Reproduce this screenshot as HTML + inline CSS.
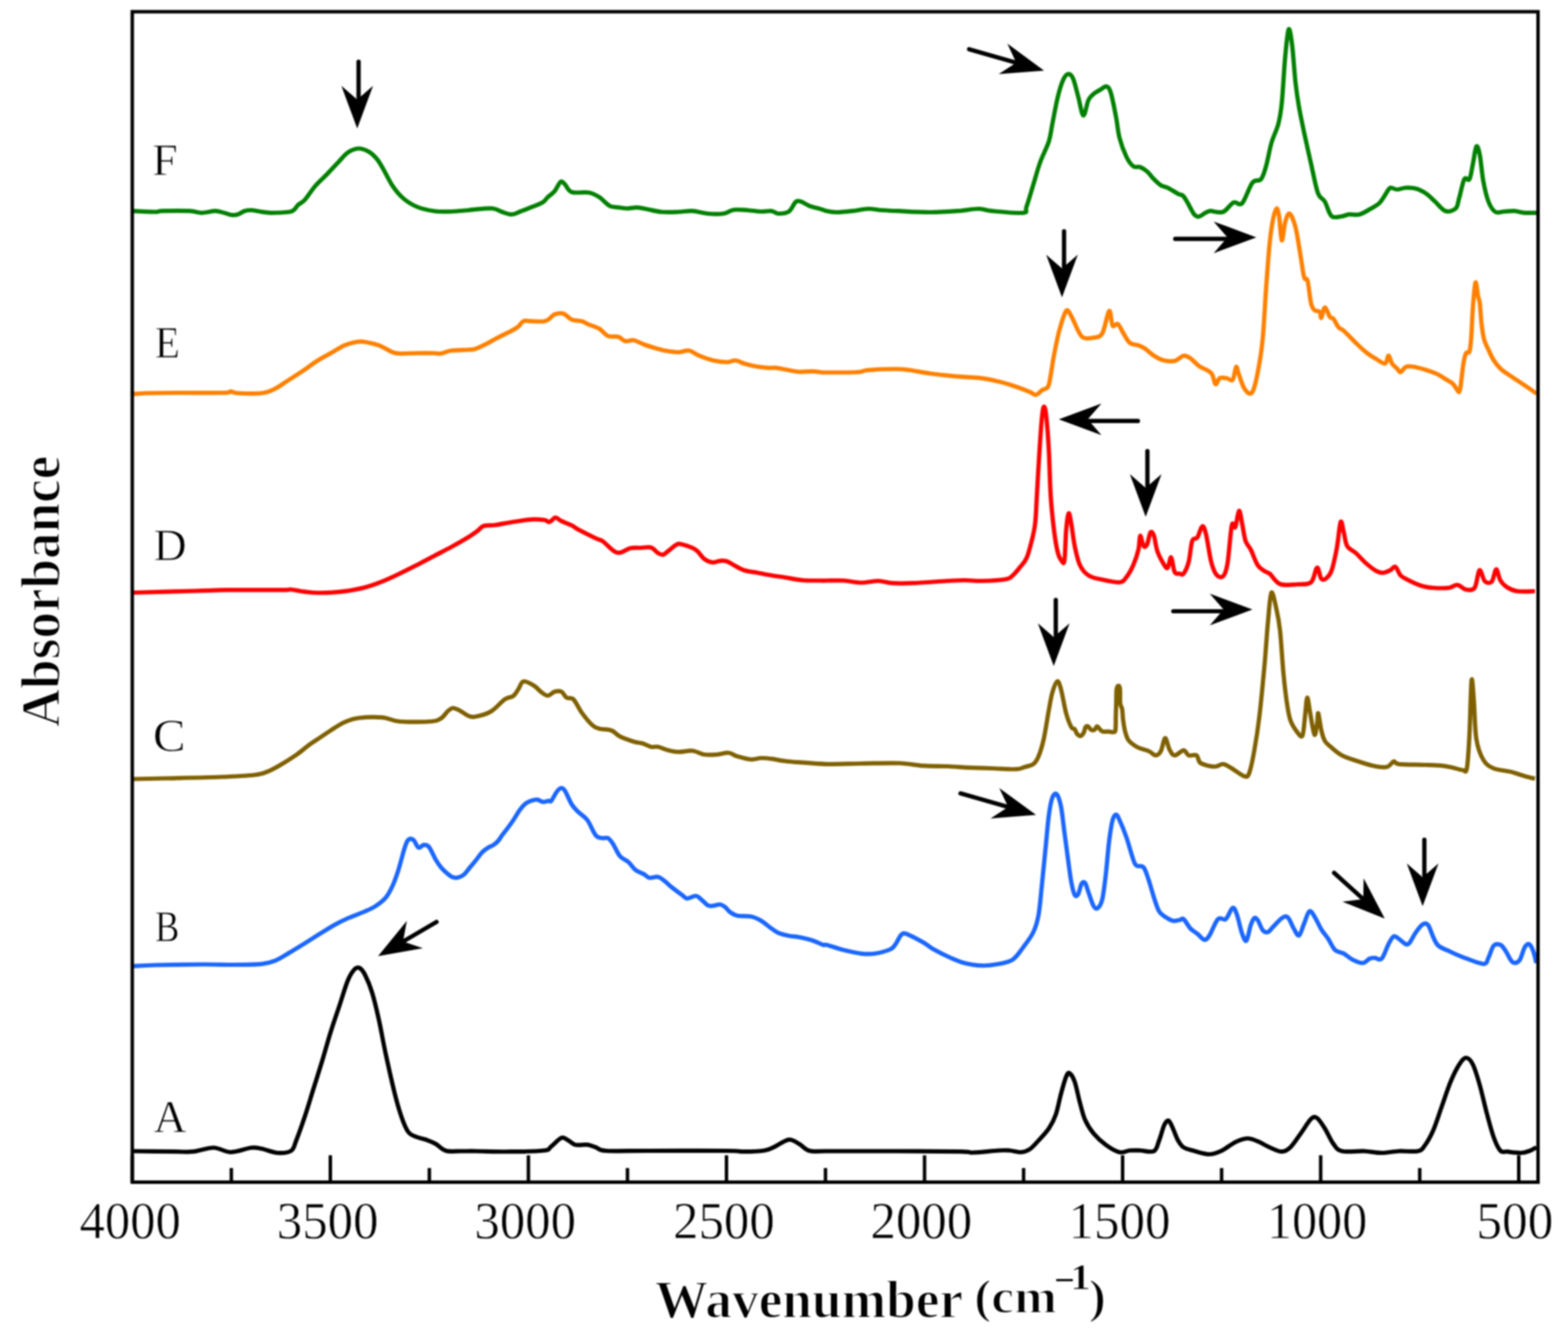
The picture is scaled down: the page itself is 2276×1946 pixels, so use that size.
<!DOCTYPE html>
<html><head><meta charset="utf-8"><title>FTIR spectra</title>
<style>html,body{margin:0;padding:0;background:#fff;}svg{display:block;filter:blur(1px);}</style>
</head><body>
<svg width="2276" height="1946" viewBox="0 0 2276 1946">
<rect width="2276" height="1946" fill="#fff"/>
<g stroke="#000" stroke-width="5"><line x1="2204.5" y1="1715.5" x2="2204.5" y2="1676.5"/><line x1="2060.8" y1="1715.5" x2="2060.8" y2="1695.0"/><line x1="1917.0" y1="1715.5" x2="1917.0" y2="1676.5"/><line x1="1773.2" y1="1715.5" x2="1773.2" y2="1695.0"/><line x1="1629.5" y1="1715.5" x2="1629.5" y2="1676.5"/><line x1="1485.8" y1="1715.5" x2="1485.8" y2="1695.0"/><line x1="1342.0" y1="1715.5" x2="1342.0" y2="1676.5"/><line x1="1198.2" y1="1715.5" x2="1198.2" y2="1695.0"/><line x1="1054.5" y1="1715.5" x2="1054.5" y2="1676.5"/><line x1="910.8" y1="1715.5" x2="910.8" y2="1695.0"/><line x1="767.0" y1="1715.5" x2="767.0" y2="1676.5"/><line x1="623.2" y1="1715.5" x2="623.2" y2="1695.0"/><line x1="479.5" y1="1715.5" x2="479.5" y2="1676.5"/><line x1="335.8" y1="1715.5" x2="335.8" y2="1695.0"/><line x1="192.0" y1="1715.5" x2="192.0" y2="1676.5"/></g>
<path fill="none" stroke="#008000" stroke-width="6.2" stroke-linejoin="round" stroke-linecap="butt" d="M190.0,306.2 C195.8,306.5 217.5,307.5 225.0,307.5 C232.5,307.5 226.7,306.5 235.0,306.2 C243.3,306.0 265.4,305.8 275.0,306.2 C284.6,306.7 286.2,308.8 292.5,308.8 C298.8,308.8 307.1,306.2 312.5,306.2 C317.9,306.2 321.0,307.8 325.0,308.8 C329.0,309.7 332.9,311.6 336.2,312.0 C339.6,312.4 341.9,312.2 345.0,311.2 C348.1,310.3 351.7,307.3 355.0,306.2 C358.3,305.2 361.2,304.9 365.0,305.0 C368.8,305.1 372.9,306.4 377.5,307.0 C382.1,307.6 385.4,308.7 392.5,308.8 C399.6,308.8 414.2,308.3 420.0,307.5 C425.8,306.7 425.4,305.4 427.5,303.8 C429.6,302.1 430.0,299.8 432.5,297.5 C435.0,295.2 438.3,294.6 442.5,290.0 C446.7,285.4 452.1,276.2 457.5,270.0 C462.9,263.8 469.2,258.5 475.0,252.5 C480.8,246.5 487.5,239.0 492.5,233.8 C497.5,228.5 500.4,224.3 505.0,221.2 C509.6,218.2 515.0,215.7 520.0,215.5 C525.0,215.3 530.4,217.4 535.0,220.0 C539.6,222.6 543.8,226.7 547.5,231.2 C551.2,235.8 553.8,241.0 557.5,247.5 C561.2,254.0 565.4,263.3 570.0,270.0 C574.6,276.7 579.2,282.5 585.0,287.5 C590.8,292.5 597.5,296.9 605.0,300.0 C612.5,303.1 621.7,305.1 630.0,306.2 C638.3,307.4 646.7,307.2 655.0,307.0 C663.3,306.8 674.2,305.5 680.0,305.0 C685.8,304.5 684.2,304.2 690.0,303.8 C695.8,303.3 708.8,302.0 715.0,302.5 C721.2,303.0 722.9,305.5 727.5,307.0 C732.1,308.5 737.9,311.2 742.5,311.2 C747.1,311.2 750.4,308.7 755.0,307.0 C759.6,305.3 764.6,303.5 770.0,301.2 C775.4,299.0 783.3,296.2 787.5,293.8 C791.7,291.2 792.1,289.0 795.0,286.2 C797.9,283.5 801.9,281.2 805.0,277.5 C808.1,273.8 811.2,265.4 813.8,263.8 C816.2,262.1 817.3,265.0 820.0,267.5 C822.7,270.0 824.2,276.8 830.0,278.8 C835.8,280.8 848.3,278.2 855.0,279.5 C861.7,280.8 865.0,283.0 870.0,286.2 C875.0,289.5 880.0,296.2 885.0,298.8 C890.0,301.2 895.8,300.6 900.0,301.2 C904.2,301.9 905.8,302.5 910.0,302.5 C914.2,302.5 920.0,301.0 925.0,301.2 C930.0,301.5 934.2,302.7 940.0,303.8 C945.8,304.8 952.5,306.9 960.0,307.5 C967.5,308.1 977.5,307.7 985.0,307.5 C992.5,307.3 997.9,305.8 1005.0,306.2 C1012.1,306.7 1020.0,309.4 1027.5,310.0 C1035.0,310.6 1043.8,310.9 1050.0,310.0 C1056.2,309.1 1059.2,305.3 1065.0,304.5 C1070.8,303.7 1078.3,304.6 1085.0,305.0 C1091.7,305.4 1099.2,306.8 1105.0,307.0 C1110.8,307.2 1115.8,305.8 1120.0,306.2 C1124.2,306.8 1125.8,309.9 1130.0,310.0 C1134.2,310.1 1140.8,309.8 1145.0,307.0 C1149.2,304.2 1152.1,295.4 1155.0,293.0 C1157.9,290.6 1159.2,291.5 1162.5,292.5 C1165.8,293.5 1170.4,297.0 1175.0,298.8 C1179.6,300.5 1185.8,301.8 1190.0,303.0 C1194.2,304.2 1195.8,305.4 1200.0,306.2 C1204.2,307.1 1208.8,308.0 1215.0,308.0 C1221.2,308.0 1230.0,307.1 1237.5,306.2 C1245.0,305.4 1252.9,303.2 1260.0,303.0 C1267.1,302.8 1272.5,304.5 1280.0,305.0 C1287.5,305.5 1293.3,305.8 1305.0,306.2 C1316.7,306.8 1335.8,308.0 1350.0,308.0 C1364.2,308.0 1378.3,307.1 1390.0,306.2 C1401.7,305.4 1411.7,303.0 1420.0,303.0 C1428.3,303.0 1429.2,305.3 1440.0,306.2 C1450.8,307.2 1476.7,309.8 1485.0,308.8 C1493.3,307.7 1487.5,306.9 1490.0,300.0 C1492.5,293.1 1496.7,278.3 1500.0,267.5 C1503.3,256.7 1506.2,245.4 1510.0,235.0 C1513.8,224.6 1519.6,214.2 1522.5,205.0 C1525.4,195.8 1525.4,190.4 1527.5,180.0 C1529.6,169.6 1532.5,152.9 1535.0,142.5 C1537.5,132.1 1540.0,123.3 1542.5,117.5 C1545.0,111.7 1547.5,108.1 1550.0,107.5 C1552.5,106.9 1555.0,108.3 1557.5,113.8 C1560.0,119.2 1562.5,131.0 1565.0,140.0 C1567.5,149.0 1570.0,166.7 1572.5,167.5 C1575.0,168.3 1577.5,150.2 1580.0,145.0 C1582.5,139.8 1584.6,138.8 1587.5,136.2 C1590.4,133.8 1594.4,131.8 1597.5,130.0 C1600.6,128.2 1603.8,124.7 1606.2,125.5 C1608.8,126.3 1610.2,127.6 1612.5,135.0 C1614.8,142.4 1617.9,159.2 1620.0,170.0 C1622.1,180.8 1622.5,190.4 1625.0,200.0 C1627.5,209.6 1631.7,220.6 1635.0,227.5 C1638.3,234.4 1641.7,238.8 1645.0,241.2 C1648.3,243.8 1651.7,241.2 1655.0,242.5 C1658.3,243.8 1661.7,245.8 1665.0,248.8 C1668.3,251.7 1671.7,256.7 1675.0,260.0 C1678.3,263.3 1681.7,266.7 1685.0,268.8 C1688.3,270.8 1690.8,270.4 1695.0,272.5 C1699.2,274.6 1706.3,279.3 1710.0,281.2 C1713.7,283.2 1715.0,282.1 1717.2,284.1 C1719.4,286.1 1721.5,290.2 1723.4,293.4 C1725.3,296.6 1727.0,300.3 1728.8,303.4 C1730.6,306.5 1732.3,310.1 1734.2,311.9 C1736.1,313.7 1737.8,314.7 1740.4,314.2 C1743.0,313.7 1747.3,310.1 1749.7,308.8 C1752.1,307.5 1753.6,306.9 1755.0,306.5 C1756.4,306.1 1754.6,306.1 1758.0,306.2 C1761.4,306.4 1770.1,309.6 1775.5,307.5 C1780.9,305.4 1785.9,295.8 1790.5,293.8 C1795.1,291.7 1798.4,299.8 1803.0,295.0 C1807.6,290.2 1813.4,270.8 1818.0,265.0 C1822.6,259.2 1827.2,264.2 1830.5,260.0 C1833.8,255.8 1835.5,248.8 1838.0,240.0 C1840.5,231.2 1842.6,217.5 1845.5,207.5 C1848.4,197.5 1853.0,189.6 1855.5,180.0 C1858.0,170.4 1858.8,166.2 1860.5,150.0 C1862.2,133.8 1863.8,100.4 1865.5,82.5 C1867.2,64.6 1868.8,45.4 1870.5,42.5 C1872.2,39.6 1873.8,52.1 1875.5,65.0 C1877.2,77.9 1878.8,105.0 1880.5,120.0 C1882.2,135.0 1883.4,142.9 1885.5,155.0 C1887.6,167.1 1890.1,178.8 1893.0,192.5 C1895.9,206.2 1899.7,222.9 1903.0,237.5 C1906.3,252.1 1909.7,270.8 1913.0,280.0 C1916.3,289.2 1919.7,286.9 1923.0,292.5 C1926.3,298.1 1928.8,310.2 1933.0,313.8 C1937.2,317.3 1943.8,314.2 1948.0,313.8 C1952.2,313.3 1953.8,311.7 1958.0,311.2 C1962.2,310.8 1968.0,312.5 1973.0,311.2 C1978.0,310.0 1983.0,306.7 1988.0,303.8 C1993.0,300.8 1998.4,298.5 2003.0,293.8 C2007.6,289.0 2012.8,278.5 2015.5,275.0 C2018.2,271.5 2017.2,272.5 2019.2,272.5 C2021.3,272.5 2024.5,275.0 2028.0,275.0 C2031.5,275.0 2035.9,272.7 2040.5,272.5 C2045.1,272.3 2050.5,272.3 2055.5,273.8 C2060.5,275.2 2065.9,278.1 2070.5,281.2 C2075.1,284.4 2078.4,288.3 2083.0,292.5 C2087.6,296.7 2093.0,304.6 2098.0,306.2 C2103.0,307.9 2109.7,305.6 2113.0,302.5 C2116.3,299.4 2115.9,294.6 2118.0,287.5 C2120.1,280.4 2123.0,264.6 2125.5,260.0 C2128.0,255.4 2130.9,263.8 2133.0,260.0 C2135.1,256.2 2136.3,245.4 2138.0,237.5 C2139.7,229.6 2141.3,214.6 2143.0,212.5 C2144.7,210.4 2146.3,216.7 2148.0,225.0 C2149.7,233.3 2150.9,251.2 2153.0,262.5 C2155.1,273.8 2157.6,285.0 2160.5,292.5 C2163.4,300.0 2166.8,305.1 2170.5,307.5 C2174.2,309.9 2178.4,307.2 2183.0,307.0 C2187.6,306.8 2193.0,306.0 2198.0,306.2 C2203.0,306.5 2207.2,308.3 2213.0,308.8 C2218.8,309.2 2229.7,308.8 2233.0,308.8"/>
<path fill="none" stroke="#ff8000" stroke-width="6.2" stroke-linejoin="round" stroke-linecap="butt" d="M190.0,572.0 C193.8,571.8 201.7,570.8 212.5,570.5 C223.3,570.2 236.2,570.1 255.0,570.0 C273.8,569.9 311.7,570.3 325.0,570.0 C338.3,569.7 331.7,567.9 335.0,568.0 C338.3,568.1 337.5,570.1 345.0,570.5 C352.5,570.9 371.2,571.4 380.0,570.5 C388.8,569.6 391.2,568.0 397.5,565.0 C403.8,562.0 410.0,557.3 417.5,552.5 C425.0,547.7 435.4,541.0 442.5,536.2 C449.6,531.5 453.8,527.7 460.0,523.8 C466.2,519.8 473.3,516.2 480.0,512.5 C486.7,508.8 493.8,504.0 500.0,501.2 C506.2,498.5 512.5,497.1 517.5,496.2 C522.5,495.4 524.6,495.4 530.0,496.2 C535.4,497.1 543.3,498.8 550.0,501.2 C556.7,503.8 565.0,509.3 570.0,511.2 C575.0,513.2 574.2,512.8 580.0,513.0 C585.8,513.2 596.7,512.6 605.0,512.5 C613.3,512.4 624.2,512.4 630.0,512.5 C635.8,512.6 635.8,513.6 640.0,513.0 C644.2,512.4 648.3,509.7 655.0,508.8 C661.7,507.8 674.2,507.9 680.0,507.5 C685.8,507.1 685.8,507.6 690.0,506.2 C694.2,504.9 699.6,502.2 705.0,499.5 C710.4,496.8 716.2,493.2 722.5,490.0 C728.8,486.8 737.5,482.7 742.5,480.0 C747.5,477.3 749.6,476.1 752.5,473.8 C755.4,471.4 756.7,467.0 760.0,465.8 C763.3,464.5 767.5,466.2 772.5,466.2 C777.5,466.3 785.8,466.9 790.0,466.2 C794.2,465.6 795.0,464.2 797.5,462.5 C800.0,460.8 801.7,457.5 805.0,456.2 C808.3,455.0 813.3,453.8 817.5,455.0 C821.7,456.2 825.4,461.9 830.0,463.8 C834.6,465.6 840.8,465.0 845.0,466.2 C849.2,467.5 850.8,469.5 855.0,471.2 C859.2,473.0 865.4,474.3 870.0,477.0 C874.6,479.7 877.9,485.5 882.5,487.5 C887.1,489.5 893.3,487.5 897.5,488.8 C901.7,490.0 903.8,494.2 907.5,495.0 C911.2,495.8 915.4,492.9 920.0,493.8 C924.6,494.6 929.2,497.9 935.0,500.0 C940.8,502.1 950.0,504.8 955.0,506.2 C960.0,507.7 960.0,507.9 965.0,508.8 C970.0,509.6 979.2,511.2 985.0,511.2 C990.8,511.2 995.0,507.9 1000.0,508.8 C1005.0,509.6 1009.2,513.9 1015.0,516.2 C1020.8,518.6 1028.3,521.5 1035.0,523.0 C1041.7,524.5 1049.6,525.5 1055.0,525.5 C1060.4,525.5 1063.3,522.7 1067.5,523.0 C1071.7,523.3 1075.4,526.1 1080.0,527.5 C1084.6,528.9 1089.2,530.2 1095.0,531.2 C1100.8,532.3 1109.6,533.3 1115.0,533.8 C1120.4,534.2 1123.3,533.3 1127.5,533.8 C1131.7,534.2 1134.6,535.3 1140.0,536.2 C1145.4,537.2 1153.3,539.1 1160.0,539.5 C1166.7,539.9 1175.0,538.7 1180.0,538.8 C1185.0,538.8 1186.7,539.7 1190.0,540.0 C1193.3,540.3 1190.8,540.5 1200.0,540.5 C1209.2,540.5 1235.0,540.6 1245.0,540.0 C1255.0,539.4 1250.8,537.8 1260.0,537.0 C1269.2,536.2 1290.0,535.5 1300.0,535.5 C1310.0,535.5 1311.7,535.9 1320.0,537.0 C1328.3,538.1 1338.8,540.5 1350.0,542.0 C1361.2,543.5 1375.0,545.1 1387.5,546.2 C1400.0,547.4 1414.6,547.5 1425.0,548.8 C1435.4,550.0 1441.7,551.7 1450.0,553.8 C1458.3,555.8 1467.5,558.8 1475.0,561.2 C1482.5,563.8 1490.2,566.8 1495.0,568.8 C1499.8,570.7 1500.8,573.4 1503.8,573.0 C1506.7,572.6 1509.6,568.2 1512.5,566.2 C1515.4,564.3 1519.2,564.8 1521.2,561.2 C1523.3,557.7 1523.5,552.7 1525.0,545.0 C1526.5,537.3 1527.9,525.8 1530.0,515.0 C1532.1,504.2 1534.6,490.6 1537.5,480.0 C1540.4,469.4 1544.6,454.8 1547.5,451.2 C1550.4,447.7 1552.1,454.0 1555.0,458.8 C1557.9,463.5 1562.1,474.8 1565.0,480.0 C1567.9,485.2 1568.8,488.3 1572.5,490.0 C1576.2,491.7 1582.9,491.0 1587.5,490.0 C1592.1,489.0 1596.2,490.2 1600.0,483.8 C1603.8,477.3 1607.5,453.1 1610.0,451.2 C1612.5,449.4 1612.9,469.4 1615.0,472.5 C1617.1,475.6 1620.0,468.3 1622.5,470.0 C1625.0,471.7 1627.1,477.9 1630.0,482.5 C1632.9,487.1 1636.2,494.4 1640.0,497.5 C1643.8,500.6 1648.8,499.8 1652.5,501.2 C1656.2,502.7 1658.8,503.8 1662.5,506.2 C1666.2,508.8 1670.8,513.5 1675.0,516.2 C1679.2,519.0 1682.5,521.2 1687.5,522.5 C1692.5,523.8 1699.9,524.8 1705.0,523.8 C1710.1,522.7 1714.2,516.9 1718.0,516.2 C1721.8,515.6 1724.2,517.5 1728.0,520.0 C1731.8,522.5 1735.5,527.7 1740.5,531.2 C1745.5,534.8 1754.0,536.9 1758.0,541.2 C1762.0,545.6 1762.2,556.2 1764.2,557.5 C1766.3,558.8 1767.8,550.2 1770.5,548.8 C1773.2,547.3 1777.4,548.3 1780.5,548.8 C1783.6,549.2 1787.0,554.0 1789.2,551.2 C1791.5,548.5 1792.8,534.0 1794.2,532.5 C1795.7,531.0 1796.1,537.5 1798.0,542.5 C1799.9,547.5 1802.8,557.7 1805.5,562.5 C1808.2,567.3 1811.8,571.2 1814.2,571.2 C1816.8,571.2 1818.2,569.8 1820.5,562.5 C1822.8,555.2 1825.9,539.6 1828.0,527.5 C1830.1,515.4 1831.3,508.8 1833.0,490.0 C1834.7,471.2 1836.3,437.9 1838.0,415.0 C1839.7,392.1 1841.3,368.8 1843.0,352.5 C1844.7,336.2 1846.3,325.8 1848.0,317.5 C1849.7,309.2 1851.5,302.9 1853.0,302.5 C1854.5,302.1 1855.5,307.3 1856.8,315.0 C1858.0,322.7 1859.0,347.5 1860.5,348.8 C1862.0,350.0 1863.6,329.0 1865.5,322.5 C1867.4,316.0 1869.2,308.8 1871.8,310.0 C1874.2,311.2 1877.8,319.6 1880.5,330.0 C1883.2,340.4 1885.9,360.4 1888.0,372.5 C1890.1,384.6 1891.3,396.7 1893.0,402.5 C1894.7,408.3 1896.3,401.2 1898.0,407.5 C1899.7,413.8 1901.3,432.9 1903.0,440.0 C1904.7,447.1 1905.9,447.9 1908.0,450.0 C1910.1,452.1 1913.8,450.6 1915.5,452.5 C1917.2,454.4 1916.8,462.3 1918.0,461.2 C1919.2,460.2 1920.9,446.5 1923.0,446.2 C1925.1,446.0 1928.4,457.3 1930.5,460.0 C1932.6,462.7 1933.4,460.0 1935.5,462.5 C1937.6,465.0 1940.5,472.1 1943.0,475.0 C1945.5,477.9 1946.3,476.2 1950.5,480.0 C1954.7,483.8 1962.6,492.3 1968.0,497.5 C1973.4,502.7 1978.0,507.3 1983.0,511.2 C1988.0,515.2 1993.4,518.5 1998.0,521.2 C2002.6,524.0 2007.6,528.3 2010.5,527.5 C2013.4,526.7 2013.8,516.2 2015.5,516.2 C2017.2,516.2 2018.4,524.4 2020.5,527.5 C2022.6,530.6 2025.9,532.9 2028.0,535.0 C2030.1,537.1 2030.9,540.4 2033.0,540.0 C2035.1,539.6 2037.6,533.8 2040.5,532.5 C2043.4,531.2 2045.9,531.4 2050.5,532.0 C2055.1,532.6 2062.2,534.5 2068.0,536.2 C2073.8,538.0 2080.5,540.2 2085.5,542.5 C2090.5,544.8 2094.2,547.7 2098.0,550.0 C2101.8,552.3 2105.5,554.2 2108.0,556.2 C2110.5,558.3 2111.3,560.4 2113.0,562.5 C2114.7,564.6 2116.8,569.6 2118.0,568.8 C2119.2,567.9 2119.5,564.4 2120.5,557.5 C2121.5,550.6 2123.0,535.0 2124.2,527.5 C2125.5,520.0 2126.5,515.4 2128.0,512.5 C2129.5,509.6 2131.8,513.8 2133.0,510.0 C2134.2,506.2 2134.7,500.8 2135.5,490.0 C2136.3,479.2 2137.0,458.3 2138.0,445.0 C2139.0,431.7 2140.5,412.5 2141.8,410.0 C2143.0,407.5 2144.5,425.0 2145.5,430.0 C2146.5,435.0 2147.2,433.3 2148.0,440.0 C2148.8,446.7 2149.5,461.2 2150.5,470.0 C2151.5,478.8 2152.6,486.2 2154.2,492.5 C2155.9,498.8 2158.2,502.5 2160.5,507.5 C2162.8,512.5 2165.1,517.9 2168.0,522.5 C2170.9,527.1 2174.7,531.7 2178.0,535.0 C2181.3,538.3 2183.8,539.6 2188.0,542.5 C2192.2,545.4 2198.0,549.2 2203.0,552.5 C2208.0,555.8 2213.4,559.4 2218.0,562.5 C2222.6,565.6 2228.4,569.8 2230.5,571.2"/>
<path fill="none" stroke="#ff0000" stroke-width="6.2" stroke-linejoin="round" stroke-linecap="butt" d="M193.8,860.0 C209.0,859.6 262.3,858.1 285.0,857.5 C307.7,856.9 309.2,856.5 330.0,856.2 C350.8,856.0 394.6,856.4 410.0,856.2 C425.4,856.1 417.9,855.2 422.5,855.5 C427.1,855.8 432.1,857.2 437.5,858.0 C442.9,858.8 447.9,859.7 455.0,860.0 C462.1,860.3 471.6,860.3 480.0,859.9 C488.4,859.5 496.7,858.7 505.1,857.4 C513.5,856.1 521.8,854.6 530.2,852.3 C538.6,850.0 546.9,846.9 555.3,843.6 C563.7,840.3 572.0,836.3 580.4,832.3 C588.8,828.3 597.1,824.0 605.5,819.7 C613.9,815.4 622.2,810.9 630.6,806.5 C639.0,802.1 647.3,798.0 655.7,793.4 C664.1,788.8 674.5,782.8 680.8,778.9 C687.1,775.0 689.8,772.8 693.3,770.2 C696.8,767.6 697.9,764.7 702.1,763.3 C706.3,761.9 712.1,762.9 718.4,762.0 C724.7,761.1 731.4,759.6 740.0,758.2 C748.6,756.8 761.7,754.4 770.0,753.8 C778.3,753.1 785.4,753.9 790.0,754.5 C794.6,755.1 794.8,758.0 797.5,757.5 C800.2,757.0 803.3,751.5 806.2,751.2 C809.2,751.0 811.0,754.4 815.0,756.2 C819.0,758.1 825.8,760.4 830.0,762.5 C834.2,764.6 834.2,765.6 840.0,768.8 C845.8,771.9 859.2,778.5 865.0,781.2 C870.8,784.0 870.8,782.6 875.0,785.5 C879.2,788.4 885.8,796.0 890.0,798.8 C894.2,801.5 895.8,802.5 900.0,802.0 C904.2,801.5 910.0,796.7 915.0,795.5 C920.0,794.3 925.0,795.2 930.0,795.0 C935.0,794.8 940.8,793.2 945.0,794.5 C949.2,795.8 952.1,800.8 955.0,802.5 C957.9,804.2 960.0,805.5 962.5,805.0 C965.0,804.5 966.7,802.0 970.0,799.5 C973.3,797.0 979.2,791.6 982.5,790.0 C985.8,788.4 986.2,789.2 990.0,790.0 C993.8,790.8 1001.2,793.3 1005.0,795.0 C1008.8,796.7 1009.6,797.3 1012.5,800.0 C1015.4,802.7 1018.8,808.5 1022.5,811.2 C1026.2,814.0 1031.2,815.8 1035.0,816.2 C1038.8,816.7 1041.7,814.0 1045.0,813.8 C1048.3,813.5 1051.7,813.5 1055.0,814.5 C1058.3,815.5 1060.8,817.8 1065.0,820.0 C1069.2,822.2 1074.2,825.6 1080.0,827.5 C1085.8,829.4 1093.3,830.0 1100.0,831.2 C1106.7,832.5 1113.3,833.9 1120.0,835.0 C1126.7,836.1 1132.5,836.8 1140.0,838.0 C1147.5,839.2 1156.7,841.2 1165.0,842.0 C1173.3,842.8 1184.2,842.4 1190.0,842.5 C1195.8,842.6 1194.2,842.5 1200.0,842.5 C1205.8,842.5 1216.7,842.0 1225.0,842.5 C1233.3,843.0 1241.7,845.4 1250.0,845.5 C1258.3,845.6 1267.5,842.9 1275.0,843.0 C1282.5,843.1 1286.7,845.7 1295.0,846.2 C1303.3,846.8 1311.7,846.8 1325.0,846.2 C1338.3,845.7 1362.5,843.7 1375.0,843.0 C1387.5,842.3 1391.7,842.0 1400.0,842.0 C1408.3,842.0 1415.0,843.2 1425.0,843.0 C1435.0,842.8 1452.5,841.8 1460.0,840.5 C1467.5,839.2 1466.7,837.8 1470.0,835.0 C1473.3,832.2 1476.7,827.9 1480.0,823.8 C1483.3,819.6 1487.1,816.5 1490.0,810.0 C1492.9,803.5 1495.4,793.3 1497.5,785.0 C1499.6,776.7 1501.2,770.8 1502.5,760.0 C1503.8,749.2 1504.0,737.5 1505.0,720.0 C1506.0,702.5 1507.5,674.2 1508.8,655.0 C1510.0,635.8 1511.4,615.8 1512.5,605.0 C1513.6,594.2 1514.5,590.0 1515.5,590.0 C1516.5,590.0 1517.6,594.2 1518.8,605.0 C1519.9,615.8 1521.5,636.2 1522.5,655.0 C1523.5,673.8 1523.8,698.3 1525.0,717.5 C1526.2,736.7 1528.3,756.2 1530.0,770.0 C1531.7,783.8 1533.3,792.9 1535.0,800.0 C1536.7,807.1 1538.3,810.2 1540.0,812.5 C1541.7,814.8 1543.8,820.8 1545.0,813.8 C1546.2,806.7 1546.5,781.5 1547.5,770.0 C1548.5,758.5 1550.0,746.7 1551.2,745.0 C1552.5,743.3 1553.5,752.1 1555.0,760.0 C1556.5,767.9 1557.9,782.5 1560.0,792.5 C1562.1,802.5 1564.2,812.9 1567.5,820.0 C1570.8,827.1 1574.6,831.5 1580.0,835.0 C1585.4,838.5 1592.5,839.6 1600.0,841.2 C1607.5,842.9 1619.2,845.6 1625.0,845.0 C1630.8,844.4 1631.7,841.7 1635.0,837.5 C1638.3,833.3 1642.1,826.7 1645.0,820.0 C1647.9,813.3 1650.8,804.6 1652.5,797.5 C1654.2,790.4 1653.8,778.3 1655.0,777.5 C1656.2,776.7 1658.3,790.4 1660.0,792.5 C1661.7,794.6 1663.3,793.3 1665.0,790.0 C1666.7,786.7 1668.3,774.6 1670.0,772.5 C1671.7,770.4 1673.3,772.9 1675.0,777.5 C1676.7,782.1 1677.5,792.9 1680.0,800.0 C1682.5,807.1 1687.5,816.0 1690.0,820.0 C1692.5,824.0 1693.3,825.6 1695.0,823.8 C1696.7,821.9 1698.3,807.7 1700.0,808.8 C1701.7,809.8 1702.9,826.0 1705.0,830.0 C1707.1,834.0 1710.3,832.1 1712.5,832.5 C1714.7,832.9 1715.8,835.4 1718.0,832.5 C1720.2,829.6 1723.4,822.9 1725.5,815.0 C1727.6,807.1 1728.4,790.8 1730.5,785.0 C1732.6,779.2 1735.6,783.5 1738.0,780.0 C1740.4,776.5 1742.9,764.6 1745.0,763.8 C1747.1,762.9 1748.3,766.5 1750.5,775.0 C1752.7,783.5 1755.5,805.2 1758.0,815.0 C1760.5,824.8 1762.6,830.2 1765.5,833.8 C1768.4,837.3 1772.8,839.0 1775.5,836.2 C1778.2,833.5 1779.7,829.8 1781.8,817.5 C1783.8,805.2 1786.1,771.2 1788.0,762.5 C1789.9,753.8 1791.2,768.5 1793.0,765.0 C1794.8,761.5 1796.8,742.1 1798.5,741.2 C1800.2,740.4 1801.4,752.7 1803.0,760.0 C1804.6,767.3 1805.9,778.8 1808.0,785.0 C1810.1,791.2 1812.6,791.7 1815.5,797.5 C1818.4,803.3 1822.2,814.8 1825.5,820.0 C1828.8,825.2 1832.6,826.7 1835.5,828.8 C1838.4,830.8 1839.2,829.4 1843.0,832.5 C1846.8,835.6 1851.3,844.9 1858.0,847.5 C1864.7,850.1 1875.5,848.4 1883.0,848.0 C1890.5,847.6 1898.2,849.0 1903.0,845.0 C1907.8,841.0 1909.2,824.6 1911.8,823.8 C1914.2,822.9 1915.7,837.5 1918.0,840.0 C1920.3,842.5 1923.0,840.8 1925.5,838.8 C1928.0,836.7 1930.5,834.8 1933.0,827.5 C1935.5,820.2 1938.3,806.7 1940.5,795.0 C1942.7,783.3 1944.3,761.2 1946.0,757.5 C1947.7,753.8 1948.9,766.7 1950.5,772.5 C1952.1,778.3 1952.6,787.5 1955.5,792.5 C1958.4,797.5 1963.4,798.3 1968.0,802.5 C1972.6,806.7 1978.0,813.1 1983.0,817.5 C1988.0,821.9 1993.8,826.5 1998.0,828.8 C2002.2,831.0 2004.7,831.5 2008.0,831.2 C2011.3,831.0 2015.1,829.0 2018.0,827.5 C2020.9,826.0 2023.0,821.2 2025.5,822.5 C2028.0,823.8 2030.1,831.9 2033.0,835.0 C2035.9,838.1 2038.0,838.8 2043.0,841.2 C2048.0,843.8 2056.8,848.0 2063.0,850.0 C2069.2,852.0 2073.8,852.5 2080.5,853.0 C2087.2,853.5 2097.2,853.7 2103.0,853.0 C2108.8,852.3 2111.3,848.3 2115.5,848.8 C2119.7,849.2 2123.8,854.8 2128.0,855.5 C2132.2,856.2 2137.2,857.7 2140.5,853.0 C2143.8,848.3 2145.0,829.0 2147.5,827.5 C2150.0,826.0 2152.5,841.0 2155.5,843.8 C2158.5,846.5 2162.8,846.7 2165.5,843.8 C2168.2,840.8 2169.7,826.5 2171.8,826.2 C2173.8,826.0 2175.3,838.1 2178.0,842.5 C2180.7,846.9 2183.8,849.9 2188.0,852.5 C2192.2,855.1 2196.3,857.1 2203.0,858.0 C2209.7,858.9 2223.8,858.0 2228.0,858.0"/>
<path fill="none" stroke="#7f6000" stroke-width="6.2" stroke-linejoin="round" stroke-linecap="butt" d="M193.8,1130.5 C201.5,1130.3 219.0,1130.0 240.0,1129.5 C261.0,1129.0 298.3,1128.3 320.0,1127.5 C341.7,1126.7 358.8,1125.8 370.0,1124.5 C381.2,1123.2 381.7,1122.2 387.5,1120.0 C393.3,1117.8 397.9,1115.3 405.0,1111.2 C412.1,1107.2 422.5,1100.7 430.0,1095.5 C437.5,1090.3 444.2,1084.2 450.0,1080.0 C455.8,1075.8 460.0,1073.3 465.0,1070.0 C470.0,1066.7 474.2,1063.7 480.0,1060.0 C485.8,1056.3 493.3,1051.0 500.0,1048.0 C506.7,1045.0 510.8,1043.1 520.0,1042.0 C529.2,1040.9 545.0,1040.4 555.0,1041.2 C565.0,1042.1 568.3,1046.0 580.0,1047.0 C591.7,1048.0 615.0,1047.8 625.0,1047.0 C635.0,1046.2 635.8,1045.0 640.0,1042.5 C644.2,1040.0 647.1,1034.5 650.0,1032.0 C652.9,1029.5 654.6,1027.6 657.5,1027.5 C660.4,1027.4 663.8,1029.4 667.5,1031.2 C671.2,1033.1 676.2,1037.3 680.0,1038.8 C683.8,1040.2 684.6,1041.0 690.0,1040.0 C695.4,1039.0 705.4,1036.7 712.5,1032.5 C719.6,1028.3 727.1,1018.8 732.5,1015.0 C737.9,1011.2 741.7,1012.5 745.0,1010.0 C748.3,1007.5 750.0,1003.5 752.5,1000.0 C755.0,996.5 756.2,989.6 760.0,988.8 C763.8,987.9 770.8,992.5 775.0,995.0 C779.2,997.5 781.7,1001.3 785.0,1003.8 C788.3,1006.2 791.7,1009.5 795.0,1009.5 C798.3,1009.5 801.7,1004.7 805.0,1003.8 C808.3,1002.8 812.1,1002.3 815.0,1003.8 C817.9,1005.2 819.6,1010.6 822.5,1012.5 C825.4,1014.4 828.8,1011.2 832.5,1015.0 C836.2,1018.8 840.4,1028.8 845.0,1035.0 C849.6,1041.2 855.8,1048.8 860.0,1052.5 C864.2,1056.2 865.4,1056.2 870.0,1057.5 C874.6,1058.8 882.5,1058.1 887.5,1060.0 C892.5,1061.9 894.6,1066.0 900.0,1068.8 C905.4,1071.5 914.6,1074.6 920.0,1076.2 C925.4,1077.9 928.3,1077.5 932.5,1078.8 C936.7,1080.0 941.2,1082.9 945.0,1083.8 C948.8,1084.6 950.8,1082.9 955.0,1083.8 C959.2,1084.6 965.0,1087.5 970.0,1088.8 C975.0,1090.0 979.2,1091.1 985.0,1091.2 C990.8,1091.4 998.8,1088.9 1005.0,1089.5 C1011.2,1090.1 1016.7,1094.1 1022.5,1095.0 C1028.3,1095.9 1034.2,1095.4 1040.0,1095.0 C1045.8,1094.6 1052.5,1092.1 1057.5,1092.5 C1062.5,1092.9 1064.6,1095.9 1070.0,1097.5 C1075.4,1099.1 1084.2,1101.6 1090.0,1102.0 C1095.8,1102.4 1100.0,1100.1 1105.0,1100.0 C1110.0,1099.9 1114.2,1100.5 1120.0,1101.2 C1125.8,1102.0 1133.3,1103.7 1140.0,1104.5 C1146.7,1105.3 1150.0,1105.5 1160.0,1106.2 C1170.0,1107.0 1185.0,1108.5 1200.0,1108.8 C1215.0,1109.0 1232.5,1108.2 1250.0,1108.0 C1267.5,1107.8 1290.0,1107.0 1305.0,1107.5 C1320.0,1108.0 1328.3,1110.5 1340.0,1111.2 C1351.7,1112.0 1364.2,1111.6 1375.0,1112.0 C1385.8,1112.4 1394.2,1113.2 1405.0,1113.8 C1415.8,1114.2 1428.3,1114.6 1440.0,1115.0 C1451.7,1115.4 1467.1,1116.6 1475.0,1116.2 C1482.9,1115.9 1483.3,1114.2 1487.5,1113.0 C1491.7,1111.8 1496.7,1111.3 1500.0,1108.8 C1503.3,1106.2 1505.0,1103.5 1507.5,1097.5 C1510.0,1091.5 1512.5,1083.8 1515.0,1072.5 C1517.5,1061.2 1520.4,1041.2 1522.5,1030.0 C1524.6,1018.8 1525.5,1011.9 1527.5,1005.0 C1529.5,998.1 1532.4,989.6 1534.5,988.8 C1536.6,987.9 1537.8,992.3 1540.0,1000.0 C1542.2,1007.7 1545.0,1025.8 1547.5,1035.0 C1550.0,1044.2 1552.9,1051.1 1555.0,1055.0 C1557.1,1058.9 1558.6,1056.5 1560.0,1058.2 C1561.4,1059.9 1562.0,1063.5 1563.5,1065.1 C1565.0,1066.7 1567.1,1068.4 1568.7,1068.0 C1570.3,1067.6 1572.2,1064.9 1573.3,1062.8 C1574.4,1060.7 1574.6,1056.8 1575.6,1055.3 C1576.6,1053.8 1577.6,1053.4 1579.1,1054.1 C1580.5,1054.8 1582.6,1058.5 1584.3,1059.3 C1586.0,1060.1 1587.7,1059.7 1589.0,1058.8 C1590.3,1057.9 1591.1,1054.1 1592.4,1054.1 C1593.7,1054.1 1595.7,1057.5 1597.0,1058.8 C1598.3,1060.0 1598.5,1061.1 1600.5,1061.6 C1602.5,1062.1 1606.3,1061.5 1609.2,1061.6 C1612.1,1061.7 1616.2,1063.2 1617.9,1062.2 C1619.6,1061.2 1619.1,1058.8 1619.4,1055.3 C1619.7,1051.8 1619.5,1047.2 1619.6,1041.4 C1619.7,1035.6 1620.0,1027.3 1620.2,1020.5 C1620.4,1013.6 1620.2,1004.5 1620.8,1000.3 C1621.4,996.0 1622.9,995.0 1623.7,995.0 C1624.5,995.0 1625.3,996.0 1625.7,1000.3 C1626.1,1004.5 1625.5,1015.7 1626.0,1020.5 C1626.5,1025.3 1628.2,1025.3 1628.9,1029.2 C1629.6,1033.1 1629.4,1038.4 1630.1,1043.7 C1630.8,1049.0 1631.8,1056.3 1633.0,1061.1 C1634.2,1065.9 1635.5,1069.7 1637.0,1072.6 C1638.5,1075.5 1639.6,1076.3 1642.2,1078.4 C1644.8,1080.5 1648.3,1083.1 1652.5,1085.0 C1656.7,1086.9 1663.3,1088.1 1667.5,1090.0 C1671.7,1091.9 1674.6,1096.2 1677.5,1096.2 C1680.4,1096.2 1682.7,1094.2 1685.0,1090.0 C1687.3,1085.8 1689.2,1071.7 1691.2,1071.2 C1693.3,1070.8 1695.2,1083.3 1697.5,1087.5 C1699.8,1091.7 1701.6,1096.0 1705.0,1096.2 C1708.4,1096.5 1714.6,1088.8 1718.0,1088.8 C1721.4,1088.8 1722.4,1095.0 1725.5,1096.2 C1728.6,1097.5 1733.8,1094.4 1736.8,1096.2 C1739.7,1098.1 1738.6,1104.8 1743.0,1107.5 C1747.4,1110.2 1757.6,1112.3 1763.0,1112.5 C1768.4,1112.7 1771.3,1108.3 1775.5,1108.8 C1779.7,1109.2 1783.0,1112.1 1788.0,1115.0 C1793.0,1117.9 1801.3,1125.0 1805.5,1126.2 C1809.7,1127.5 1810.5,1128.5 1813.0,1122.5 C1815.5,1116.5 1818.0,1103.8 1820.5,1090.0 C1823.0,1076.2 1825.5,1060.8 1828.0,1040.0 C1830.5,1019.2 1833.4,987.9 1835.5,965.0 C1837.6,942.1 1838.8,920.0 1840.5,902.5 C1842.2,885.0 1843.4,862.9 1845.5,860.0 C1847.6,857.1 1850.9,875.8 1853.0,885.0 C1855.1,894.2 1856.3,899.6 1858.0,915.0 C1859.7,930.4 1861.3,960.0 1863.0,977.5 C1864.7,995.0 1866.3,1008.8 1868.0,1020.0 C1869.7,1031.2 1870.5,1037.9 1873.0,1045.0 C1875.5,1052.1 1880.1,1058.8 1883.0,1062.5 C1885.9,1066.2 1888.6,1071.2 1890.5,1067.5 C1892.4,1063.8 1893.1,1049.2 1894.2,1040.0 C1895.4,1030.8 1896.2,1013.3 1897.5,1012.5 C1898.8,1011.7 1900.0,1026.0 1901.8,1035.0 C1903.5,1044.0 1906.3,1063.8 1908.0,1066.2 C1909.7,1068.8 1910.8,1055.2 1911.8,1050.0 C1912.7,1044.8 1912.5,1033.3 1913.5,1035.0 C1914.5,1036.7 1916.4,1053.3 1918.0,1060.0 C1919.6,1066.7 1920.5,1070.8 1923.0,1075.0 C1925.5,1079.2 1928.8,1081.5 1933.0,1085.0 C1937.2,1088.5 1942.2,1093.1 1948.0,1096.2 C1953.8,1099.4 1960.5,1101.2 1968.0,1103.8 C1975.5,1106.2 1985.5,1109.7 1993.0,1111.2 C2000.5,1112.8 2008.0,1114.0 2013.0,1113.0 C2018.0,1112.0 2020.1,1105.7 2023.0,1105.0 C2025.9,1104.3 2023.0,1107.9 2030.5,1108.8 C2038.0,1109.6 2057.6,1109.6 2068.0,1110.0 C2078.4,1110.4 2086.3,1110.6 2093.0,1111.2 C2099.7,1111.9 2103.0,1112.7 2108.0,1113.8 C2113.0,1114.8 2119.5,1117.3 2123.0,1117.5 C2126.5,1117.7 2127.6,1123.8 2129.2,1115.0 C2130.9,1106.2 2131.9,1086.2 2133.0,1065.0 C2134.1,1043.8 2135.0,995.8 2136.0,987.5 C2137.0,979.2 2138.1,1000.8 2139.2,1015.0 C2140.4,1029.2 2140.7,1057.9 2143.0,1072.5 C2145.3,1087.1 2148.8,1095.4 2153.0,1102.5 C2157.2,1109.6 2161.3,1112.1 2168.0,1115.0 C2174.7,1117.9 2185.5,1118.1 2193.0,1120.0 C2200.5,1121.9 2207.2,1124.6 2213.0,1126.2 C2218.8,1127.9 2225.5,1129.4 2228.0,1130.0"/>
<path fill="none" stroke="#1a66ff" stroke-width="6.2" stroke-linejoin="round" stroke-linecap="butt" d="M193.8,1402.0 C199.0,1401.8 208.1,1400.9 225.0,1400.5 C241.9,1400.1 275.8,1399.6 295.0,1399.5 C314.2,1399.4 325.8,1400.1 340.0,1400.0 C354.2,1399.9 370.0,1399.8 380.0,1398.8 C390.0,1397.7 393.3,1396.5 400.0,1393.8 C406.7,1391.0 412.9,1386.7 420.0,1382.5 C427.1,1378.3 435.4,1373.1 442.5,1368.8 C449.6,1364.4 455.4,1360.6 462.5,1356.2 C469.6,1351.9 477.9,1346.5 485.0,1342.5 C492.1,1338.5 497.5,1335.8 505.0,1332.5 C512.5,1329.2 523.3,1325.4 530.0,1322.5 C536.7,1319.6 540.0,1318.3 545.0,1315.0 C550.0,1311.7 555.8,1307.5 560.0,1302.5 C564.2,1297.5 567.1,1291.2 570.0,1285.0 C572.9,1278.8 575.4,1271.2 577.5,1265.0 C579.6,1258.8 580.8,1253.3 582.5,1247.5 C584.2,1241.7 585.8,1234.8 587.5,1230.0 C589.2,1225.2 590.4,1220.6 592.5,1218.8 C594.6,1216.9 597.5,1216.9 600.0,1218.8 C602.5,1220.6 605.0,1228.8 607.5,1230.0 C610.0,1231.2 612.5,1226.5 615.0,1226.2 C617.5,1226.0 619.6,1225.2 622.5,1228.8 C625.4,1232.3 629.6,1242.5 632.5,1247.5 C635.4,1252.5 637.3,1255.2 640.0,1258.5 C642.7,1261.8 645.7,1264.6 648.5,1267.0 C651.3,1269.4 654.1,1271.9 656.9,1272.9 C659.7,1274.0 662.6,1274.0 665.4,1273.3 C668.2,1272.6 671.1,1271.2 673.9,1268.7 C676.7,1266.2 679.5,1261.9 682.3,1258.5 C685.1,1255.1 688.0,1251.9 690.8,1248.4 C693.6,1244.9 696.5,1240.4 699.3,1237.4 C702.1,1234.4 704.9,1232.4 707.7,1230.6 C710.5,1228.8 713.7,1228.0 716.2,1226.3 C718.8,1224.6 720.9,1222.8 723.0,1220.4 C725.1,1218.0 726.5,1215.2 728.9,1212.0 C731.3,1208.8 734.6,1204.8 737.4,1201.0 C740.2,1197.2 743.0,1193.3 745.8,1189.1 C748.6,1184.9 751.5,1179.4 754.3,1175.6 C757.1,1171.8 760.0,1168.5 762.8,1166.2 C765.6,1163.9 768.4,1163.0 771.2,1162.0 C774.0,1161.0 776.9,1160.0 779.7,1160.3 C782.5,1160.6 785.4,1163.4 788.2,1163.7 C791.0,1164.0 794.6,1162.2 796.6,1162.0 C798.6,1161.8 798.2,1164.5 800.0,1162.5 C801.8,1160.5 805.2,1153.1 807.5,1150.0 C809.8,1146.9 811.7,1144.2 813.8,1143.8 C815.8,1143.3 817.3,1143.5 820.0,1147.5 C822.7,1151.5 826.7,1162.3 830.0,1167.5 C833.3,1172.7 836.2,1175.0 840.0,1178.8 C843.8,1182.5 848.3,1184.4 852.5,1190.0 C856.7,1195.6 861.2,1208.1 865.0,1212.5 C868.8,1216.9 872.1,1215.6 875.0,1216.2 C877.9,1216.9 880.0,1214.8 882.5,1216.2 C885.0,1217.7 887.1,1220.6 890.0,1225.0 C892.9,1229.4 896.2,1238.1 900.0,1242.5 C903.8,1246.9 908.8,1247.9 912.5,1251.2 C916.2,1254.6 918.8,1259.6 922.5,1262.5 C926.2,1265.4 931.7,1266.9 935.0,1268.8 C938.3,1270.6 939.2,1273.1 942.5,1273.8 C945.8,1274.4 951.2,1271.7 955.0,1272.5 C958.8,1273.3 961.7,1276.2 965.0,1278.8 C968.3,1281.2 970.8,1284.2 975.0,1287.5 C979.2,1290.8 986.2,1296.0 990.0,1298.8 C993.8,1301.5 994.2,1303.5 997.5,1303.8 C1000.8,1304.0 1006.7,1299.8 1010.0,1300.0 C1013.3,1300.2 1014.6,1302.7 1017.5,1305.0 C1020.4,1307.3 1024.6,1312.2 1027.5,1313.8 C1030.4,1315.3 1032.1,1314.7 1035.0,1314.5 C1037.9,1314.3 1042.1,1312.2 1045.0,1312.5 C1047.9,1312.8 1050.0,1314.4 1052.5,1316.2 C1055.0,1318.1 1057.1,1321.7 1060.0,1323.8 C1062.9,1325.8 1065.0,1327.7 1070.0,1328.8 C1075.0,1329.8 1084.2,1328.8 1090.0,1330.0 C1095.8,1331.2 1100.0,1333.3 1105.0,1336.2 C1110.0,1339.2 1115.8,1344.6 1120.0,1347.5 C1124.2,1350.4 1125.8,1352.0 1130.0,1353.8 C1134.2,1355.5 1140.0,1357.0 1145.0,1358.0 C1150.0,1359.0 1154.2,1358.8 1160.0,1360.0 C1165.8,1361.2 1174.2,1363.1 1180.0,1365.0 C1185.8,1366.9 1191.7,1370.2 1195.0,1371.2 C1198.3,1372.3 1195.0,1370.0 1200.0,1371.2 C1205.0,1372.5 1216.7,1376.7 1225.0,1378.8 C1233.3,1380.8 1242.5,1382.9 1250.0,1383.8 C1257.5,1384.6 1262.9,1384.8 1270.0,1383.8 C1277.1,1382.7 1287.5,1379.8 1292.5,1377.5 C1297.5,1375.2 1297.5,1373.3 1300.0,1370.0 C1302.5,1366.7 1305.0,1360.0 1307.5,1357.5 C1310.0,1355.0 1309.6,1353.3 1315.0,1355.0 C1320.4,1356.7 1333.3,1363.8 1340.0,1367.5 C1346.7,1371.2 1348.3,1373.8 1355.0,1377.5 C1361.7,1381.2 1372.5,1386.7 1380.0,1390.0 C1387.5,1393.3 1392.5,1395.6 1400.0,1397.5 C1407.5,1399.4 1416.7,1401.0 1425.0,1401.2 C1433.3,1401.5 1442.5,1400.2 1450.0,1398.8 C1457.5,1397.3 1464.2,1396.5 1470.0,1392.5 C1475.8,1388.5 1480.0,1381.7 1485.0,1375.0 C1490.0,1368.3 1496.2,1360.4 1500.0,1352.5 C1503.8,1344.6 1505.4,1339.2 1507.5,1327.5 C1509.6,1315.8 1510.8,1298.3 1512.5,1282.5 C1514.2,1266.7 1515.8,1249.2 1517.5,1232.5 C1519.2,1215.8 1520.8,1195.0 1522.5,1182.5 C1524.2,1170.0 1525.6,1162.5 1527.5,1157.5 C1529.4,1152.5 1531.7,1150.4 1533.8,1152.5 C1535.8,1154.6 1538.1,1160.8 1540.0,1170.0 C1541.9,1179.2 1543.3,1195.0 1545.0,1207.5 C1546.7,1220.0 1548.3,1232.9 1550.0,1245.0 C1551.7,1257.1 1553.3,1271.0 1555.0,1280.0 C1556.7,1289.0 1558.3,1295.8 1560.0,1298.8 C1561.7,1301.7 1563.3,1300.2 1565.0,1297.5 C1566.7,1294.8 1568.3,1285.2 1570.0,1282.5 C1571.7,1279.8 1573.3,1279.2 1575.0,1281.2 C1576.7,1283.3 1577.9,1289.4 1580.0,1295.0 C1582.1,1300.6 1585.2,1311.2 1587.5,1315.0 C1589.8,1318.8 1591.7,1319.2 1593.8,1317.5 C1595.8,1315.8 1598.1,1312.9 1600.0,1305.0 C1601.9,1297.1 1603.3,1284.2 1605.0,1270.0 C1606.7,1255.8 1608.3,1233.3 1610.0,1220.0 C1611.7,1206.7 1613.3,1196.3 1615.0,1190.0 C1616.7,1183.7 1618.3,1182.0 1620.0,1182.0 C1621.7,1182.0 1622.5,1184.5 1625.0,1190.0 C1627.5,1195.5 1631.7,1205.4 1635.0,1215.0 C1638.3,1224.6 1642.5,1240.6 1645.0,1247.5 C1647.5,1254.4 1647.5,1254.4 1650.0,1256.2 C1652.5,1258.1 1657.1,1255.2 1660.0,1258.8 C1662.9,1262.3 1665.0,1270.2 1667.5,1277.5 C1670.0,1284.8 1672.5,1295.0 1675.0,1302.5 C1677.5,1310.0 1679.6,1317.7 1682.5,1322.5 C1685.4,1327.3 1689.2,1329.0 1692.5,1331.2 C1695.8,1333.5 1699.2,1335.6 1702.5,1336.2 C1705.8,1336.9 1709.9,1335.4 1712.5,1335.0 C1715.1,1334.6 1715.4,1331.7 1718.0,1333.8 C1720.6,1335.8 1724.7,1344.0 1728.0,1347.5 C1731.3,1351.0 1734.7,1352.3 1738.0,1355.0 C1741.3,1357.7 1745.1,1363.3 1748.0,1363.8 C1750.9,1364.2 1752.2,1362.5 1755.5,1357.5 C1758.8,1352.5 1764.0,1337.7 1768.0,1333.8 C1772.0,1329.8 1775.7,1336.5 1779.2,1333.8 C1782.8,1331.0 1786.5,1318.5 1789.2,1317.5 C1792.0,1316.5 1793.2,1321.2 1795.5,1327.5 C1797.8,1333.8 1800.7,1348.8 1803.0,1355.0 C1805.3,1361.2 1807.2,1367.1 1809.2,1365.0 C1811.3,1362.9 1813.6,1347.9 1815.5,1342.5 C1817.4,1337.1 1818.8,1333.8 1820.5,1332.5 C1822.2,1331.2 1823.4,1332.1 1825.5,1335.0 C1827.6,1337.9 1830.5,1347.1 1833.0,1350.0 C1835.5,1352.9 1838.0,1353.3 1840.5,1352.5 C1843.0,1351.7 1844.7,1348.3 1848.0,1345.0 C1851.3,1341.7 1857.0,1334.8 1860.5,1332.5 C1864.0,1330.2 1866.3,1328.8 1869.2,1331.2 C1872.2,1333.8 1875.3,1343.1 1878.0,1347.5 C1880.7,1351.9 1883.0,1358.8 1885.5,1357.5 C1888.0,1356.2 1890.5,1345.8 1893.0,1340.0 C1895.5,1334.2 1898.0,1324.2 1900.5,1322.5 C1903.0,1320.8 1905.1,1325.6 1908.0,1330.0 C1910.9,1334.4 1914.7,1343.3 1918.0,1348.8 C1921.3,1354.2 1924.7,1357.5 1928.0,1362.5 C1931.3,1367.5 1934.2,1375.2 1938.0,1378.8 C1941.8,1382.3 1946.3,1381.5 1950.5,1383.8 C1954.7,1386.0 1958.4,1390.2 1963.0,1392.5 C1967.6,1394.8 1973.8,1397.7 1978.0,1397.5 C1982.2,1397.3 1985.1,1392.5 1988.0,1391.2 C1990.9,1390.0 1992.6,1390.0 1995.5,1390.0 C1998.4,1390.0 2002.2,1394.6 2005.5,1391.2 C2008.8,1387.9 2012.6,1375.4 2015.5,1370.0 C2018.4,1364.6 2020.5,1360.0 2023.0,1358.8 C2025.5,1357.5 2027.6,1360.6 2030.5,1362.5 C2033.4,1364.4 2038.0,1369.0 2040.5,1370.0 C2043.0,1371.0 2043.0,1371.7 2045.5,1368.8 C2048.0,1365.8 2052.2,1357.1 2055.5,1352.5 C2058.8,1347.9 2062.6,1342.9 2065.5,1341.2 C2068.4,1339.6 2070.5,1339.4 2073.0,1342.5 C2075.5,1345.6 2078.0,1355.0 2080.5,1360.0 C2083.0,1365.0 2083.8,1369.0 2088.0,1372.5 C2092.2,1376.0 2099.7,1378.5 2105.5,1381.2 C2111.3,1384.0 2115.1,1385.8 2123.0,1388.8 C2130.9,1391.7 2146.8,1398.5 2153.0,1398.8 C2159.2,1399.0 2158.0,1394.4 2160.5,1390.0 C2163.0,1385.6 2165.1,1375.6 2168.0,1372.5 C2170.9,1369.4 2175.1,1370.0 2178.0,1371.2 C2180.9,1372.5 2182.6,1375.8 2185.5,1380.0 C2188.4,1384.2 2192.2,1394.0 2195.5,1396.2 C2198.8,1398.5 2202.6,1397.3 2205.5,1393.8 C2208.4,1390.2 2210.7,1379.0 2213.0,1375.0 C2215.3,1371.0 2217.2,1369.2 2219.2,1370.0 C2221.3,1370.8 2223.7,1375.4 2225.5,1380.0 C2227.3,1384.6 2229.2,1394.6 2230.0,1397.5"/>
<path fill="none" stroke="#000000" stroke-width="6.2" stroke-linejoin="round" stroke-linecap="butt" d="M193.8,1670.5 C204.0,1670.6 240.6,1671.1 255.0,1671.2 C269.4,1671.4 270.8,1672.2 280.0,1671.2 C289.2,1670.3 300.8,1665.4 310.0,1665.5 C319.2,1665.6 325.8,1672.0 335.0,1672.0 C344.2,1672.0 357.5,1666.3 365.0,1665.5 C372.5,1664.7 373.8,1665.8 380.0,1667.0 C386.2,1668.2 395.4,1672.5 402.5,1673.0 C409.6,1673.5 417.9,1673.0 422.5,1670.0 C427.1,1667.0 426.7,1663.3 430.0,1655.0 C433.3,1646.7 438.3,1632.5 442.5,1620.0 C446.7,1607.5 450.8,1593.3 455.0,1580.0 C459.2,1566.7 463.3,1553.8 467.5,1540.0 C471.7,1526.2 475.8,1510.8 480.0,1497.5 C484.2,1484.2 488.3,1472.5 492.5,1460.0 C496.7,1447.5 501.2,1431.5 505.0,1422.5 C508.8,1413.5 512.1,1409.2 515.0,1406.2 C517.9,1403.3 520.0,1403.5 522.5,1405.0 C525.0,1406.5 527.1,1409.2 530.0,1415.0 C532.9,1420.8 536.7,1429.2 540.0,1440.0 C543.3,1450.8 546.7,1465.0 550.0,1480.0 C553.3,1495.0 556.2,1512.5 560.0,1530.0 C563.8,1547.5 568.8,1570.0 572.5,1585.0 C576.2,1600.0 579.2,1610.4 582.5,1620.0 C585.8,1629.6 588.8,1637.5 592.5,1642.5 C596.2,1647.5 600.4,1648.0 605.0,1650.0 C609.6,1652.0 615.4,1652.8 620.0,1654.5 C624.6,1656.2 627.9,1657.4 632.5,1660.0 C637.1,1662.6 641.2,1668.2 647.5,1670.0 C653.8,1671.8 662.9,1670.4 670.0,1670.5 C677.1,1670.6 678.3,1670.4 690.0,1670.5 C701.7,1670.6 723.3,1671.4 740.0,1671.2 C756.7,1671.1 780.0,1670.8 790.0,1669.5 C800.0,1668.2 795.8,1666.8 800.0,1663.8 C804.2,1660.7 810.8,1652.7 815.0,1651.2 C819.2,1649.8 821.7,1653.3 825.0,1655.0 C828.3,1656.7 830.4,1660.2 835.0,1661.2 C839.6,1662.3 847.5,1660.6 852.5,1661.2 C857.5,1661.9 860.4,1663.5 865.0,1665.0 C869.6,1666.5 867.5,1669.2 880.0,1670.0 C892.5,1670.8 910.8,1670.0 940.0,1670.0 C969.2,1670.0 1031.7,1669.8 1055.0,1670.0 C1078.3,1670.2 1070.8,1671.3 1080.0,1671.2 C1089.2,1671.2 1102.5,1670.8 1110.0,1669.5 C1117.5,1668.2 1119.2,1666.4 1125.0,1663.8 C1130.8,1661.1 1139.2,1654.4 1145.0,1653.8 C1150.8,1653.1 1155.0,1657.3 1160.0,1660.0 C1165.0,1662.7 1168.3,1668.2 1175.0,1670.0 C1181.7,1671.8 1179.2,1670.4 1200.0,1670.5 C1220.8,1670.6 1267.5,1670.4 1300.0,1670.5 C1332.5,1670.6 1376.2,1670.9 1395.0,1671.2 C1413.8,1671.6 1403.3,1672.8 1412.5,1672.5 C1421.7,1672.2 1441.2,1670.0 1450.0,1669.5 C1458.8,1669.0 1459.6,1669.1 1465.0,1669.5 C1470.4,1669.9 1477.5,1672.3 1482.5,1672.0 C1487.5,1671.7 1490.8,1670.3 1495.0,1667.5 C1499.2,1664.7 1502.9,1660.0 1507.5,1655.0 C1512.1,1650.0 1518.3,1643.8 1522.5,1637.5 C1526.7,1631.2 1529.6,1625.8 1532.5,1617.5 C1535.4,1609.2 1537.5,1596.7 1540.0,1587.5 C1542.5,1578.3 1545.4,1567.5 1547.5,1562.5 C1549.6,1557.5 1550.4,1556.2 1552.5,1557.5 C1554.6,1558.8 1557.5,1562.9 1560.0,1570.0 C1562.5,1577.1 1565.0,1590.8 1567.5,1600.0 C1570.0,1609.2 1571.7,1617.5 1575.0,1625.0 C1578.3,1632.5 1582.5,1639.0 1587.5,1645.0 C1592.5,1651.0 1598.8,1656.8 1605.0,1661.2 C1611.2,1665.8 1619.2,1670.6 1625.0,1672.0 C1630.8,1673.4 1635.0,1669.9 1640.0,1669.5 C1645.0,1669.1 1649.2,1669.3 1655.0,1669.5 C1660.8,1669.7 1670.4,1672.9 1675.0,1670.5 C1679.6,1668.1 1680.0,1661.3 1682.5,1655.0 C1685.0,1648.7 1687.7,1637.3 1690.0,1632.5 C1692.3,1627.7 1694.2,1625.4 1696.2,1626.2 C1698.3,1627.1 1700.2,1632.7 1702.5,1637.5 C1704.8,1642.3 1707.4,1650.4 1710.0,1655.0 C1712.6,1659.6 1714.2,1662.5 1718.0,1665.0 C1721.8,1667.5 1726.8,1668.3 1733.0,1670.0 C1739.2,1671.7 1748.8,1675.0 1755.5,1675.0 C1762.2,1675.0 1766.8,1672.9 1773.0,1670.0 C1779.2,1667.1 1786.8,1660.5 1793.0,1657.5 C1799.2,1654.5 1805.1,1652.2 1810.5,1652.0 C1815.9,1651.8 1820.1,1654.1 1825.5,1656.2 C1830.9,1658.4 1837.2,1662.5 1843.0,1665.0 C1848.8,1667.5 1855.5,1671.2 1860.5,1671.2 C1865.5,1671.2 1868.4,1669.4 1873.0,1665.0 C1877.6,1660.6 1883.0,1651.9 1888.0,1645.0 C1893.0,1638.1 1899.0,1627.5 1903.0,1623.8 C1907.0,1620.0 1908.4,1620.2 1911.8,1622.5 C1915.1,1624.8 1919.0,1631.2 1923.0,1637.5 C1927.0,1643.8 1931.3,1654.5 1935.5,1660.0 C1939.7,1665.5 1940.5,1668.8 1948.0,1670.5 C1955.5,1672.2 1970.9,1670.1 1980.5,1670.5 C1990.1,1670.9 1997.2,1673.0 2005.5,1673.0 C2013.8,1673.0 2021.8,1670.9 2030.5,1670.5 C2039.2,1670.1 2051.8,1671.8 2058.0,1670.5 C2064.2,1669.2 2064.2,1667.6 2068.0,1662.5 C2071.8,1657.4 2076.3,1649.6 2080.5,1640.0 C2084.7,1630.4 2088.8,1616.7 2093.0,1605.0 C2097.2,1593.3 2101.3,1580.0 2105.5,1570.0 C2109.7,1560.0 2114.2,1550.8 2118.0,1545.0 C2121.8,1539.2 2124.7,1535.0 2128.0,1535.0 C2131.3,1535.0 2134.7,1538.3 2138.0,1545.0 C2141.3,1551.7 2144.7,1563.3 2148.0,1575.0 C2151.3,1586.7 2154.7,1602.5 2158.0,1615.0 C2161.3,1627.5 2164.7,1640.8 2168.0,1650.0 C2171.3,1659.2 2174.7,1666.5 2178.0,1670.0 C2181.3,1673.5 2183.0,1670.8 2188.0,1671.2 C2193.0,1671.8 2202.6,1673.2 2208.0,1673.0 C2213.4,1672.8 2216.8,1671.3 2220.5,1670.0 C2224.2,1668.7 2228.4,1665.8 2230.0,1665.0"/>
<line x1="520.5" y1="89.6" x2="520.5" y2="142.5" stroke="#000" stroke-width="6.2" stroke-linecap="round"/><path d="M518.5,186.5 L495.5,124.5 L518.5,144.5 L541.5,124.5 Z" fill="#000"/>
<line x1="1406.7" y1="71.4" x2="1473.2" y2="90.4" stroke="#000" stroke-width="6.2" stroke-linecap="round"/><path d="M1515.5,102.5 L1449.6,107.5 L1475.1,90.9 L1462.2,63.3 Z" fill="#000"/>
<line x1="1705.9" y1="346.7" x2="1779.6" y2="346.7" stroke="#000" stroke-width="6.2" stroke-linecap="round"/><path d="M1823.6,344.4 L1761.6,367.4 L1781.6,344.4 L1761.6,321.4 Z" fill="#000"/>
<line x1="1544.5" y1="335.6" x2="1544.5" y2="387.5" stroke="#000" stroke-width="6.2" stroke-linecap="round"/><path d="M1541.5,431.5 L1518.5,369.5 L1541.5,389.5 L1564.5,369.5 Z" fill="#000"/>
<line x1="1651.7" y1="610.9" x2="1580.9" y2="610.9" stroke="#000" stroke-width="6.2" stroke-linecap="round"/><path d="M1536.9,608.4 L1598.9,585.4 L1578.9,608.4 L1598.9,631.4 Z" fill="#000"/>
<line x1="1665.5" y1="654.6" x2="1665.5" y2="706.0" stroke="#000" stroke-width="6.2" stroke-linecap="round"/><path d="M1663.0,750.0 L1640.0,688.0 L1663.0,708.0 L1686.0,688.0 Z" fill="#000"/>
<line x1="1532.5" y1="870.6" x2="1532.5" y2="922.5" stroke="#000" stroke-width="6.2" stroke-linecap="round"/><path d="M1529.5,966.5 L1506.5,904.5 L1529.5,924.5 L1552.5,904.5 Z" fill="#000"/>
<line x1="1703.1" y1="887.0" x2="1774.0" y2="887.0" stroke="#000" stroke-width="6.2" stroke-linecap="round"/><path d="M1818.0,884.5 L1756.0,907.5 L1776.0,884.5 L1756.0,861.5 Z" fill="#000"/>
<line x1="1394.2" y1="1151.3" x2="1461.4" y2="1170.5" stroke="#000" stroke-width="6.2" stroke-linecap="round"/><path d="M1503.8,1182.5 L1437.8,1187.7 L1463.4,1171.0 L1450.4,1143.4 Z" fill="#000"/>
<line x1="633.6" y1="1337.8" x2="586.7" y2="1365.3" stroke="#000" stroke-width="6.2" stroke-linecap="round"/><path d="M548.8,1387.5 L590.6,1336.3 L585.0,1366.3 L613.9,1376.0 Z" fill="#000"/>
<line x1="1936.5" y1="1266.6" x2="1977.4" y2="1303.5" stroke="#000" stroke-width="6.2" stroke-linecap="round"/><path d="M2010.0,1333.0 L1948.6,1308.5 L1978.8,1304.8 L1979.4,1274.4 Z" fill="#000"/>
<line x1="2067.5" y1="1218.6" x2="2067.5" y2="1271.0" stroke="#000" stroke-width="6.2" stroke-linecap="round"/><path d="M2065.0,1315.0 L2042.0,1253.0 L2065.0,1273.0 L2088.0,1253.0 Z" fill="#000"/>
<rect x="192" y="17" width="2040.5" height="1698.5" fill="none" stroke="#000" stroke-width="5"/>
<text x="221.00" y="254.25" font-family="'Liberation Serif', 'DejaVu Serif', serif" font-size="64.66" stroke="#fff" stroke-width="0.80" textLength="36.97" lengthAdjust="spacingAndGlyphs" fill="#000">F</text>
<text x="225.00" y="519.25" font-family="'Liberation Serif', 'DejaVu Serif', serif" font-size="66.32" stroke="#fff" stroke-width="0.80" textLength="36.12" lengthAdjust="spacingAndGlyphs" fill="#000">E</text>
<text x="223.00" y="813.00" font-family="'Liberation Serif', 'DejaVu Serif', serif" font-size="66.41" stroke="#fff" stroke-width="0.80" textLength="47.82" lengthAdjust="spacingAndGlyphs" fill="#000">D</text>
<text x="222.00" y="1090.00" font-family="'Liberation Serif', 'DejaVu Serif', serif" font-size="67.20" stroke="#fff" stroke-width="0.80" textLength="47.33" lengthAdjust="spacingAndGlyphs" fill="#000">C</text>
<text x="225.00" y="1366.00" font-family="'Liberation Serif', 'DejaVu Serif', serif" font-size="63.99" stroke="#fff" stroke-width="0.80" textLength="35.40" lengthAdjust="spacingAndGlyphs" fill="#000">B</text>
<text x="223.00" y="1642.50" font-family="'Liberation Serif', 'DejaVu Serif', serif" font-size="66.77" stroke="#fff" stroke-width="0.80" textLength="47.84" lengthAdjust="spacingAndGlyphs" fill="#000">A</text>
<text x="115.50" y="1796.80" font-family="'Liberation Serif', 'DejaVu Serif', serif" font-size="75.15" stroke="#fff" stroke-width="0.80" textLength="146.97" lengthAdjust="spacingAndGlyphs" fill="#000">4000</text>
<text x="401.75" y="1796.80" font-family="'Liberation Serif', 'DejaVu Serif', serif" font-size="75.15" stroke="#fff" stroke-width="0.80" textLength="147.62" lengthAdjust="spacingAndGlyphs" fill="#000">3500</text>
<text x="688.50" y="1796.80" font-family="'Liberation Serif', 'DejaVu Serif', serif" font-size="75.15" stroke="#fff" stroke-width="0.80" textLength="147.52" lengthAdjust="spacingAndGlyphs" fill="#000">3000</text>
<text x="977.00" y="1796.80" font-family="'Liberation Serif', 'DejaVu Serif', serif" font-size="75.15" stroke="#fff" stroke-width="0.80" textLength="147.53" lengthAdjust="spacingAndGlyphs" fill="#000">2500</text>
<text x="1263.50" y="1796.80" font-family="'Liberation Serif', 'DejaVu Serif', serif" font-size="75.15" stroke="#fff" stroke-width="0.80" textLength="147.63" lengthAdjust="spacingAndGlyphs" fill="#000">2000</text>
<text x="1551.00" y="1796.80" font-family="'Liberation Serif', 'DejaVu Serif', serif" font-size="75.13" stroke="#fff" stroke-width="0.80" textLength="148.12" lengthAdjust="spacingAndGlyphs" fill="#000">1500</text>
<text x="1839.00" y="1796.80" font-family="'Liberation Serif', 'DejaVu Serif', serif" font-size="75.15" stroke="#fff" stroke-width="0.80" textLength="145.59" lengthAdjust="spacingAndGlyphs" fill="#000">1000</text>
<text x="2143.00" y="1796.80" font-family="'Liberation Serif', 'DejaVu Serif', serif" font-size="75.15" stroke="#fff" stroke-width="0.80" textLength="111.70" lengthAdjust="spacingAndGlyphs" fill="#000">500</text>
<text x="950.50" y="1911.80" font-family="'Liberation Serif', 'DejaVu Serif', serif" font-size="79.05" font-weight="bold" stroke="#fff" stroke-width="2.00" textLength="447.51" lengthAdjust="spacingAndGlyphs" fill="#000">Wavenumber</text>
<text x="1414.00" y="1904.90" font-family="'Liberation Serif', 'DejaVu Serif', serif" font-size="70.40" font-weight="bold" stroke="#fff" stroke-width="2.00" textLength="120.24" lengthAdjust="spacingAndGlyphs" fill="#000">(cm</text>
<text x="1580.30" y="1904.90" font-family="'Liberation Serif', 'DejaVu Serif', serif" font-size="70.54" font-weight="bold" stroke="#fff" stroke-width="2.00" textLength="25.27" lengthAdjust="spacingAndGlyphs" fill="#000">)</text>
<text transform="translate(85.80,1055.30) rotate(-90)" font-family="'Liberation Serif', 'DejaVu Serif', serif" font-size="79.56" font-weight="bold" stroke="#fff" stroke-width="2.00" textLength="393.99" lengthAdjust="spacingAndGlyphs" fill="#000">Absorbance</text>
<text x="1530.20" y="1872.80" font-family="'Liberation Serif', 'DejaVu Serif', serif" font-size="46.00" font-weight="bold" textLength="29.57" lengthAdjust="spacingAndGlyphs" fill="#000">&#8722;</text>
<text x="1553.80" y="1871.20" font-family="'Liberation Serif', 'DejaVu Serif', serif" font-size="53.31" font-weight="bold" stroke="#fff" stroke-width="1.00" textLength="29.36" lengthAdjust="spacingAndGlyphs" fill="#000">1</text>
</svg>
</body></html>
